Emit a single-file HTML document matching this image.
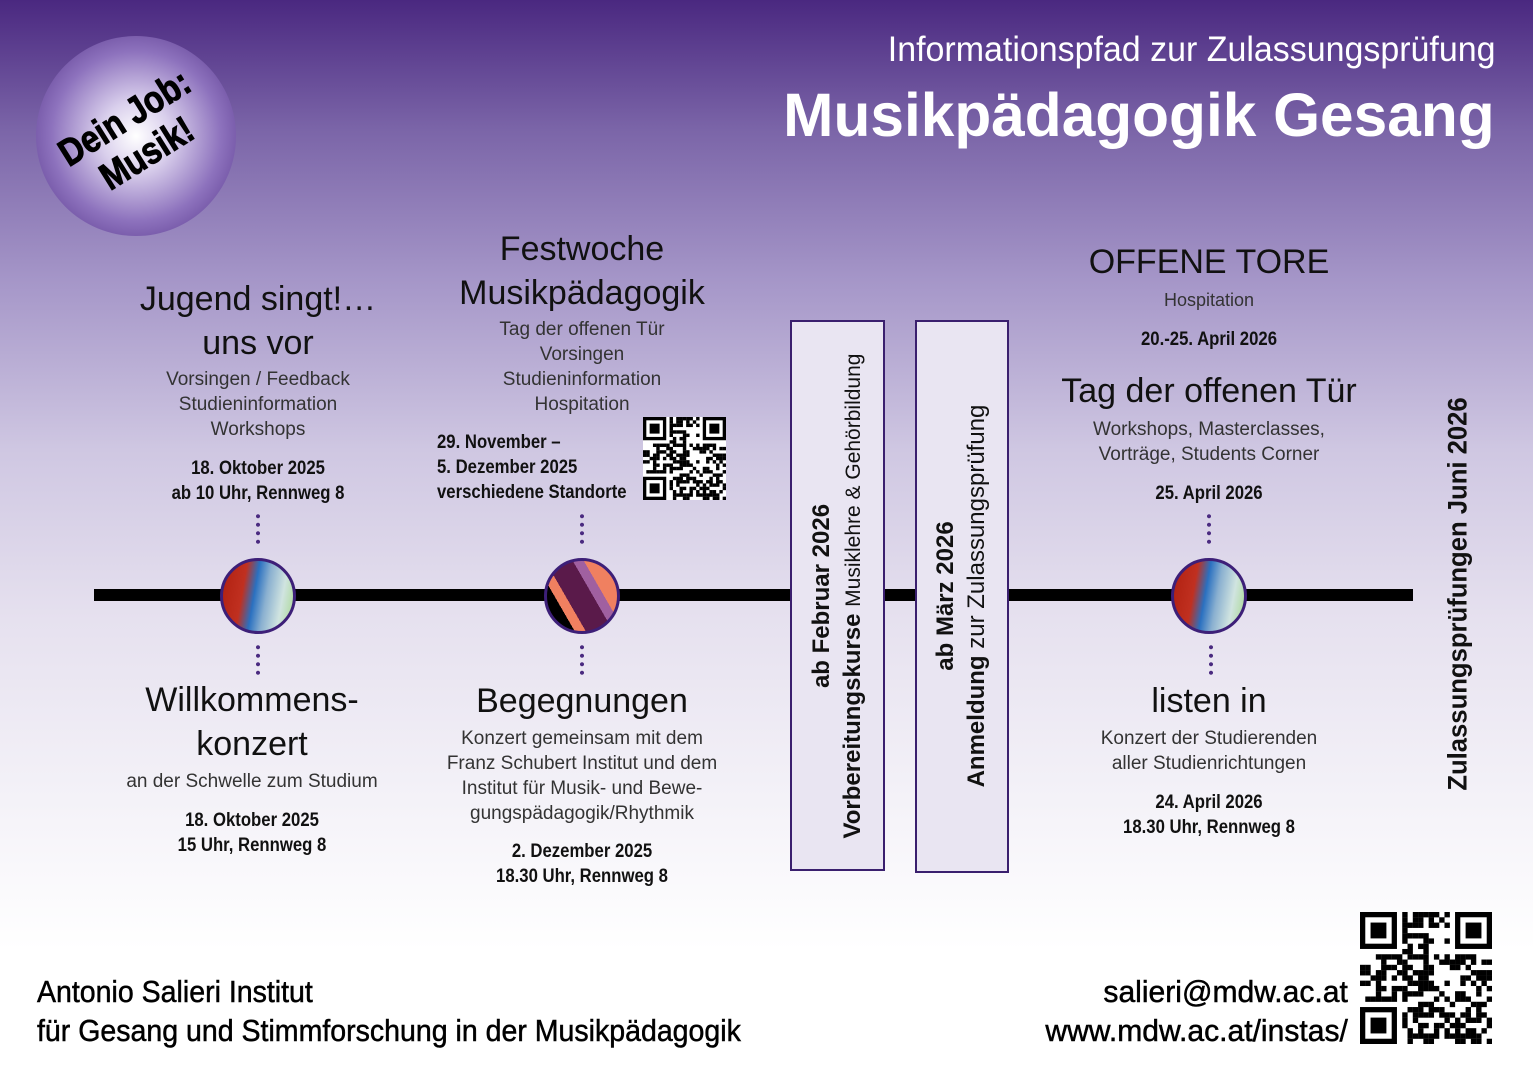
<!DOCTYPE html>
<html><head><meta charset="utf-8"><style>
*{margin:0;padding:0;box-sizing:border-box}
body{width:1533px;height:1080px;overflow:hidden;position:relative;font-family:"Liberation Sans",sans-serif;
background:linear-gradient(180deg,#4a2880 0px,#7b65a8 130px,#a596c8 280px,#cfc7e2 450px,#e6e1ef 620px,#f4f2f8 800px,#ffffff 950px)}
.t{position:absolute;text-align:center;white-space:nowrap;color:#1a1a1a}
.h{font-size:34px;line-height:44px;font-weight:normal;color:#111}
.s{font-size:19px;line-height:25px;color:#333}
.d{font-weight:bold;font-size:19px;line-height:25px;color:#111;transform:scaleX(0.88)}
.dots{position:absolute;width:4px;height:34px;background:radial-gradient(circle,#4a2a80 1.8px,transparent 2.2px) 0 0/4px 8.5px repeat-y}
.circ{position:absolute;width:76px;height:76px;border-radius:50%;border:3px solid #3d1f78;overflow:hidden}
.box{position:absolute;background:#e9e5f2;border:2.5px solid #3a1f6e}
.v{position:absolute;white-space:nowrap;transform:translate(-50%,-50%) rotate(-90deg);color:#111}
</style></head><body>
<div class="t" style="right:38px;top:30px;font-size:35px;color:#fff;text-align:right;transform:scaleX(0.97);transform-origin:right">Informationspfad zur Zulassungsprüfung</div>
<div class="t" style="right:38px;top:80px;font-size:61px;font-weight:bold;color:#fff;text-align:right;transform:scaleX(0.99);transform-origin:right">Musikpädagogik Gesang</div>
<div style="position:absolute;left:36px;top:36px;width:200px;height:200px;border-radius:50%;background:radial-gradient(circle at 50% 50%,#ffffff 0%,#d9cfec 25%,#8d72bd 60%,#4a2880 100%)"></div>
<div style="position:absolute;left:136px;top:136px;transform:translate(-50%,-50%) rotate(-32deg) scaleX(0.85);font-weight:bold;font-size:38px;line-height:42px;text-align:center;color:#000;white-space:nowrap;-webkit-text-stroke:1px #000">Dein Job:<br>Musik!</div>
<div style="position:absolute;left:94px;top:589px;width:1319px;height:12px;background:#000"></div>
<div class="t h" style="left:108px;width:300px;top:277px">Jugend singt!…<br>uns vor</div>
<div class="t s" style="left:108px;width:300px;top:367px">Vorsingen / Feedback<br>Studieninformation<br>Workshops</div>
<div class="t d" style="left:108px;width:300px;top:456px">18. Oktober 2025<br>ab 10 Uhr, Rennweg 8</div>
<div class="dots" style="left:256px;top:512px"></div>
<div class="circ" style="left:220px;top:558px;background:linear-gradient(100deg,#b02010 0%,#c03020 30%,#2a70c0 45%,#8ab0d0 60%,#d0e4e0 80%,#a8d890 100%)"></div>
<div class="dots" style="left:256px;top:643px"></div>
<div class="t h" style="left:102px;width:300px;top:678px">Willkommens-<br>konzert</div>
<div class="t s" style="left:102px;width:300px;top:769px">an der Schwelle zum Studium</div>
<div class="t d" style="left:102px;width:300px;top:808px">18. Oktober 2025<br>15 Uhr, Rennweg 8</div>
<div class="t h" style="left:432px;width:300px;top:227px">Festwoche<br>Musikpädagogik</div>
<div class="t s" style="left:432px;width:300px;top:317px">Tag der offenen Tür<br>Vorsingen<br>Studieninformation<br>Hospitation</div>
<div class="t d" style="left:437px;top:430px;text-align:left;transform-origin:left">29. November –<br>5. Dezember 2025<br>verschiedene Standorte</div>
<svg id="qr1" style="position:absolute;left:643px;top:417px" width="83" height="83"></svg>
<div class="dots" style="left:580px;top:512px"></div>
<div class="circ" style="left:544px;top:558px;background:linear-gradient(60deg,#000 0 25%,#f08060 25% 35%,#5a1a4a 35% 60%,#a060a0 60% 70%,#f08060 70%)"></div>
<div class="dots" style="left:580px;top:643px"></div>
<div class="t h" style="left:432px;width:300px;top:679px">Begegnungen</div>
<div class="t s" style="left:432px;width:300px;top:726px">Konzert gemeinsam mit dem<br>Franz Schubert Institut und dem<br>Institut für Musik- und Bewe-<br>gungspädagogik/Rhythmik</div>
<div class="t d" style="left:432px;width:300px;top:839px">2. Dezember 2025<br>18.30 Uhr, Rennweg 8</div>
<div class="box" style="left:790px;top:320px;width:95px;height:551px"></div>
<div class="box" style="left:915px;top:320px;width:94px;height:553px"></div>
<div class="v" style="left:822px;top:596px;font-size:24px;font-weight:bold">ab Februar 2026</div>
<div class="v" style="left:853px;top:596px;font-size:24px"><b>Vorbereitungskurse</b> <span style="font-size:21px">Musiklehre &amp; Gehörbildung</span></div>
<div class="v" style="left:946px;top:596px;font-size:24px;font-weight:bold">ab März 2026</div>
<div class="v" style="left:977px;top:596px;font-size:24px"><b>Anmeldung</b> zur Zulassungsprüfung</div>
<div class="v" style="left:1458px;top:594px;font-size:27px;font-weight:bold;transform:translate(-50%,-50%) rotate(-90deg) scaleX(0.95)">Zulassungsprüfungen Juni 2026</div>
<div class="t h" style="left:1059px;width:300px;top:240px">OFFENE TORE</div>
<div class="t s" style="left:1059px;width:300px;top:288px;font-size:18px">Hospitation</div>
<div class="t d" style="left:1059px;width:300px;top:327px">20.-25. April 2026</div>
<div class="t h" style="left:1009px;width:400px;top:369px">Tag der offenen Tür</div>
<div class="t s" style="left:1059px;width:300px;top:417px">Workshops, Masterclasses,<br>Vorträge, Students Corner</div>
<div class="t d" style="left:1059px;width:300px;top:481px">25. April 2026</div>
<div class="dots" style="left:1207px;top:512px"></div>
<div class="circ" style="left:1171px;top:558px;background:linear-gradient(100deg,#b02010 0%,#c03020 30%,#2a70c0 45%,#8ab0d0 60%,#d0e4e0 80%,#a8d890 100%)"></div>
<div class="dots" style="left:1209px;top:643px"></div>
<div class="t h" style="left:1059px;width:300px;top:679px">listen in</div>
<div class="t s" style="left:1059px;width:300px;top:726px">Konzert der Studierenden<br>aller Studienrichtungen</div>
<div class="t d" style="left:1059px;width:300px;top:790px">24. April 2026<br>18.30 Uhr, Rennweg 8</div>
<div class="t" style="left:37px;top:972px;text-align:left;font-size:31px;line-height:39px;color:#000;transform:scaleX(0.92);transform-origin:left;-webkit-text-stroke:0.5px #000">Antonio Salieri Institut<br>für Gesang und Stimmforschung in der Musikpädagogik</div>
<div class="t" style="right:185px;top:972px;text-align:right;font-size:31px;line-height:39px;color:#000;transform:scaleX(0.97);transform-origin:right;-webkit-text-stroke:0.5px #000">salieri@mdw.ac.at<br>www.mdw.ac.at/instas/</div>
<svg id="qr2" style="position:absolute;left:1360px;top:912px" width="132" height="132"></svg>
<script>
function qr(id,size,n){var s=document.getElementById(id),c=size/n,h='',seed=id.length*97+13;
function r(){seed=(seed*9301+49297)%233280;return seed/233280}
function fin(x,y){h+='<rect x="'+(x*c)+'" y="'+(y*c)+'" width="'+(7*c)+'" height="'+(7*c)+'" fill="#000"/><rect x="'+((x+1)*c)+'" y="'+((y+1)*c)+'" width="'+(5*c)+'" height="'+(5*c)+'" fill="#fff"/><rect x="'+((x+2)*c)+'" y="'+((y+2)*c)+'" width="'+(3*c)+'" height="'+(3*c)+'" fill="#000"/>'}
h+='<rect width="'+size+'" height="'+size+'" fill="#fff"/>';
for(var y=0;y<n;y++)for(var x=0;x<n;x++){if((x<8&&y<8)||(x>n-9&&y<8)||(x<8&&y>n-9))continue;if(r()<0.5)h+='<rect x="'+(x*c)+'" y="'+(y*c)+'" width="'+(c+0.1)+'" height="'+(c+0.1)+'" fill="#000"/>'}
fin(0,0);fin(n-7,0);fin(0,n-7);s.innerHTML=h}
qr('qr1',83,25);qr('qr2',132,25);
</script>
</body></html>
